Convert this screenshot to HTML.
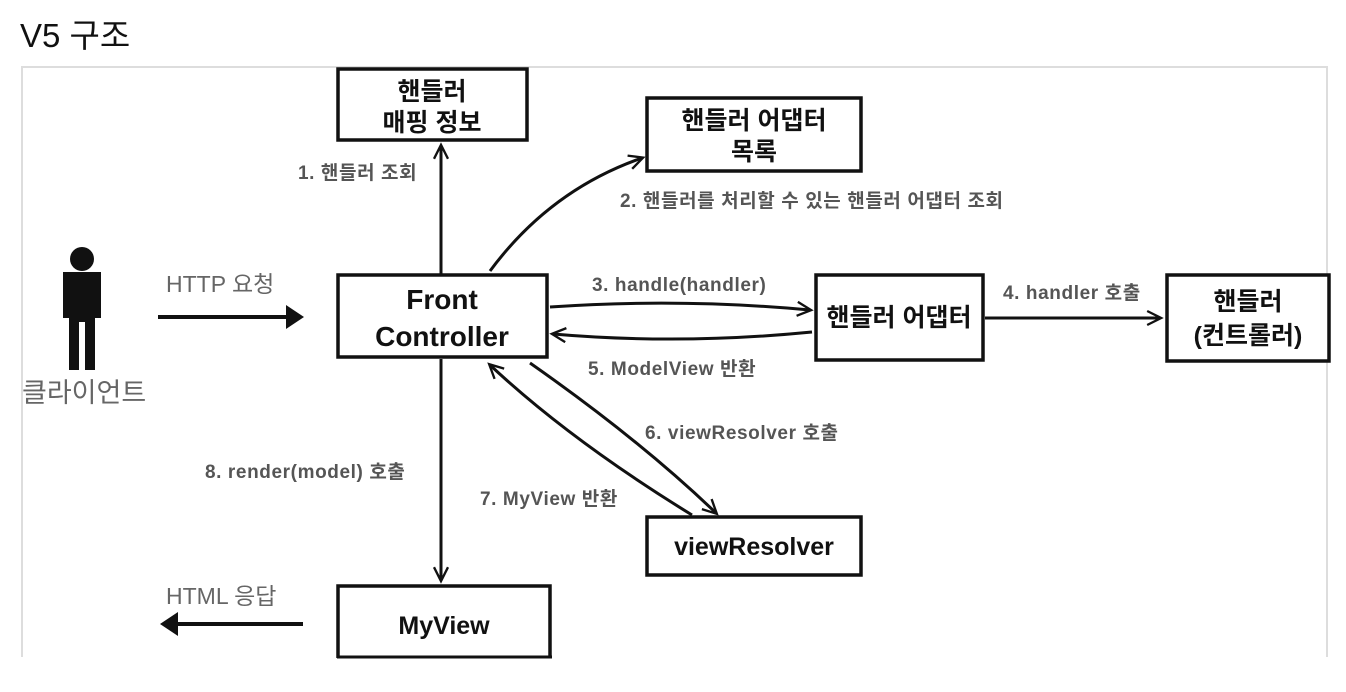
<!DOCTYPE html>
<html><head><meta charset="utf-8"><style>
html,body{margin:0;padding:0;background:#fff;width:1346px;height:692px;overflow:hidden}
svg{display:block}
text{font-family:"Liberation Sans","Noto Sans CJK KR",sans-serif}
.b{fill:#fff;stroke:#111;stroke-width:3.5}
.l{fill:none;stroke:#111;stroke-width:3}
.t{font-size:25px;font-weight:bold;fill:#111;text-anchor:middle}
.g{font-size:19px;font-weight:bold;fill:#555;letter-spacing:0.6px}
</style></head><body>
<svg width="1346" height="692" viewBox="0 0 1346 692">
<defs>
<marker id="a" viewBox="0 0 12 12" refX="11" refY="6" markerWidth="14" markerHeight="14" orient="auto" markerUnits="userSpaceOnUse" style="overflow:visible">
<path d="M0,0 L12,6 L0,12" fill="none" stroke="#111" stroke-width="2"/>
</marker>
</defs>
<text x="20" y="47" style="font-size:33px;fill:#111">V5 구조</text>
<path d="M22 657 V67 H1327 V657" fill="none" stroke="#ddd" stroke-width="2"/>
<rect class="b" x="338" y="69" width="189" height="71"/>
<text class="t" x="432" y="100">핸들러</text><text class="t" x="432" y="131">매핑 정보</text>
<rect class="b" x="647" y="98" width="214" height="73"/>
<text class="t" x="754" y="129">핸들러 어댑터</text><text class="t" x="754" y="160">목록</text>
<rect class="b" x="338" y="275" width="209" height="82"/>
<text class="t" x="442" y="309" style="font-size:28px">Front</text><text class="t" x="442" y="346" style="font-size:28px">Controller</text>
<rect class="b" x="816" y="275" width="167" height="85"/>
<text class="t" x="899" y="326">핸들러 어댑터</text>
<rect class="b" x="1167" y="275" width="162" height="86"/>
<text class="t" x="1248" y="310">핸들러</text><text class="t" x="1248" y="344">(컨트롤러)</text>
<rect class="b" x="647" y="517" width="214" height="58"/>
<text class="t" x="754" y="555">viewResolver</text>
<rect class="b" x="338" y="586" width="212" height="80"/>
<text class="t" x="444" y="634">MyView</text>
<rect x="0" y="658" width="1346" height="40" fill="#fff"/>
<line x1="337" y1="657" x2="552" y2="657" stroke="#111" stroke-width="3"/>
<circle cx="82" cy="259" r="12" fill="#111"/>
<path d="M63 272 H101 V318 H95 V370 H85 V322 H79 V370 H69 V318 H63 Z" fill="#111"/>
<text x="22" y="402" style="font-size:27px;fill:#666">클라이언트</text>
<text x="166" y="292" style="font-size:23px;fill:#666">HTTP 요청</text>
<line x1="158" y1="317" x2="292" y2="317" stroke="#111" stroke-width="4"/>
<path d="M286 305 L304 317 L286 329 Z" fill="#111"/>
<text x="166" y="604" style="font-size:23px;fill:#666">HTML 응답</text>
<line x1="303" y1="624" x2="172" y2="624" stroke="#111" stroke-width="4"/>
<path d="M178 612 L160 624 L178 636 Z" fill="#111"/>
<line class="l" x1="441" y1="274" x2="441" y2="146" marker-end="url(#a)"/>
<text class="g" x="298" y="179">1. 핸들러 조회</text>
<path class="l" d="M490 271 Q550 190 642 158" marker-end="url(#a)"/>
<text class="g" x="620" y="207">2. 핸들러를 처리할 수 있는 핸들러 어댑터 조회</text>
<path class="l" d="M550 307 Q680 298 810 310" marker-end="url(#a)"/>
<text class="g" x="592" y="291">3. handle(handler)</text>
<path class="l" d="M812 332 Q680 345 553 334" marker-end="url(#a)"/>
<text class="g" x="588" y="375">5. ModelView 반환</text>
<line class="l" x1="985" y1="318" x2="1160" y2="318" marker-end="url(#a)"/>
<text class="g" x="1003" y="299">4. handler 호출</text>
<path class="l" d="M530 363 Q640 440 716 513" marker-end="url(#a)"/>
<text class="g" x="645" y="439">6. viewResolver 호출</text>
<path class="l" d="M692 515 Q570 440 490 365" marker-end="url(#a)"/>
<text class="g" x="480" y="505">7. MyView 반환</text>
<line class="l" x1="441" y1="359" x2="441" y2="580" marker-end="url(#a)"/>
<text class="g" x="205" y="478">8. render(model) 호출</text>
</svg>
</body></html>
